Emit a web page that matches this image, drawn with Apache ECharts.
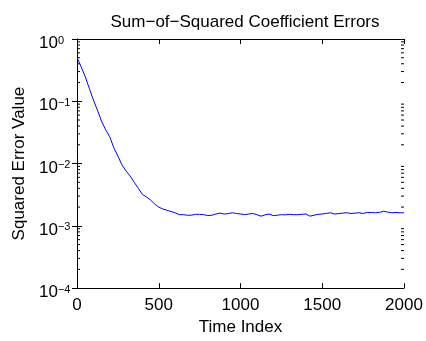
<!DOCTYPE html>
<html>
<head>
<meta charset="utf-8">
<script src="https://cdn.jsdelivr.net/npm/echarts@6/dist/echarts.min.js"></script>
<style>
  html, body { margin: 0; padding: 0; background: #fff; }
  #chart { width: 426px; height: 341px; }
</style>
</head>
<body>
<div id="chart"></div>
<script>
// Learning curve: sum of squared coefficient errors over time
var timeIndex = [1, 12, 25, 50, 75, 100, 125, 150, 175, 200, 225, 250, 275, 300, 325, 350, 375, 400,
  425, 450, 475, 500, 525, 550, 575, 600, 625, 650, 675, 700, 725, 750, 775, 800, 825, 850, 875,
  900, 925, 950, 975, 1000, 1025, 1050, 1075, 1100, 1125, 1150, 1175, 1200, 1225, 1250, 1275,
  1300, 1325, 1350, 1375, 1400, 1425, 1450, 1475, 1500, 1525, 1550, 1575, 1600, 1625, 1650,
  1675, 1700, 1725, 1750, 1775, 1800, 1825, 1850, 1875, 1900, 1925, 1950, 1975, 2000];
var sqErr = [0.50, 0.48, 0.36, 0.25, 0.162, 0.105, 0.072, 0.048, 0.035, 0.027, 0.018, 0.0132,
  0.0095, 0.0076, 0.0063, 0.0050, 0.0040, 0.0032, 0.0029, 0.0026, 0.00224, 0.0020, 0.00186,
  0.00178, 0.0017, 0.00162, 0.00151, 0.00151, 0.00148, 0.00148, 0.00153, 0.00153, 0.00151,
  0.00146, 0.00148, 0.00155, 0.0016, 0.00155, 0.00157, 0.00162, 0.00158, 0.00155, 0.00151,
  0.00155, 0.00158, 0.00151, 0.00143, 0.0015, 0.00155, 0.00146, 0.00148, 0.00151, 0.0015,
  0.00153, 0.00151, 0.00151, 0.00153, 0.00155, 0.00143, 0.00148, 0.00153, 0.00155, 0.00158,
  0.00162, 0.00155, 0.00157, 0.0016, 0.00162, 0.00158, 0.0016, 0.00162, 0.00158, 0.00164,
  0.00164, 0.00162, 0.00164, 0.00172, 0.00166, 0.00162, 0.00164, 0.00162, 0.00162];

// Minor tick positions on the log axis (2..9 within each decade)
var minorTicks = [];
[1e-4, 1e-3, 1e-2, 1e-1].forEach(function (d) {
  for (var k = 2; k <= 9; k++) minorTicks.push(+(k * d).toPrecision(3));
});

var FONT = 'Liberation Sans';
var FS = 17;
var chart = echarts.init(document.getElementById('chart'), null, { renderer: 'canvas' });

function expLabel(v) {
  var e = Math.round(Math.log10(v));
  var s = e < 0 ? '\u2212' + (-e) : String(e);
  return '{b|10}{s|' + s + '}';
}

var richLabel = {
  b: { fontFamily: FONT, fontSize: FS, color: '#000', verticalAlign: 'middle', lineHeight: 17 },
  s: { fontFamily: FONT, fontSize: 11, color: '#000', verticalAlign: 'top', lineHeight: 14 }
};

var logAxisBase = {
  type: 'log', logBase: 10, min: 1e-4, max: 1,
  axisLine: { show: true, lineStyle: { color: '#000', width: 1 } },
  axisTick: { show: true, inside: true, length: 5, lineStyle: { color: '#000' } },
  splitLine: { show: false }
};

chart.setOption({
  animation: false,
  backgroundColor: '#fff',
  title: {
    text: 'Sum\u2212of\u2212Squared Coefficient Errors',
    left: 240, top: 9, textAlign: 'center',
    textStyle: { fontFamily: FONT, fontSize: FS, fontWeight: 'normal', color: '#000' }
  },
  grid: { left: 77, right: 22, top: 39, bottom: 45 },
  xAxis: [{
    type: 'value', min: 0, max: 2000, interval: 500, position: 'bottom',
    name: 'Time Index', nameLocation: 'middle', nameGap: 29,
    nameTextStyle: { fontFamily: FONT, fontSize: FS, color: '#000' },
    axisLine: { show: true, lineStyle: { color: '#000', width: 1 } },
    axisTick: { show: true, inside: true, length: 5, lineStyle: { color: '#000' } },
    axisLabel: {
      fontFamily: FONT, fontSize: FS, color: '#000', margin: 9,
      formatter: function (v) { return String(v); }
    },
    splitLine: { show: false }
  }, {
    type: 'value', min: 0, max: 2000, interval: 500, position: 'top',
    axisLine: { show: true, lineStyle: { color: '#000', width: 1 } },
    axisTick: { show: true, inside: true, length: 5, lineStyle: { color: '#000' } },
    axisLabel: { show: false },
    splitLine: { show: false }
  }],
  yAxis: [Object.assign({}, logAxisBase, {
    position: 'left',
    name: 'Squared Error Value', nameLocation: 'middle', nameGap: 36, nameRotate: 90,
    nameTextStyle: { fontFamily: FONT, fontSize: FS, color: '#000' },
    axisLabel: { formatter: expLabel, rich: richLabel, margin: 38, align: 'left', padding: [9, 0, 0, 0] }
  }), Object.assign({}, logAxisBase, {
    position: 'right',
    axisLabel: { show: false }
  })],
  series: [{
    type: 'line',
    xAxisIndex: 0, yAxisIndex: 0,
    data: timeIndex.map(function (t, i) { return [t, sqErr[i]]; }),
    showSymbol: false,
    lineStyle: { color: '#0000ff', width: 1 },
    silent: true
  }, {
    // minor ticks on both vertical edges of the box
    type: 'custom',
    xAxisIndex: 0, yAxisIndex: 0,
    silent: true,
    clip: false,
    data: minorTicks.map(function (v) { return [0, v]; }),
    renderItem: function (params, api) {
      var v = api.value(1);
      var l = api.coord([0, v]);
      var r = api.coord([2000, v]);
      var st = { stroke: '#000', lineWidth: 1 };
      return {
        type: 'group',
        children: [
          { type: 'line', shape: { x1: l[0], y1: l[1], x2: l[0] + 3, y2: l[1] }, style: st },
          { type: 'line', shape: { x1: r[0] - 3, y1: r[1], x2: r[0], y2: r[1] }, style: st }
        ]
      };
    }
  }]
});
</script>
</body>
</html>
